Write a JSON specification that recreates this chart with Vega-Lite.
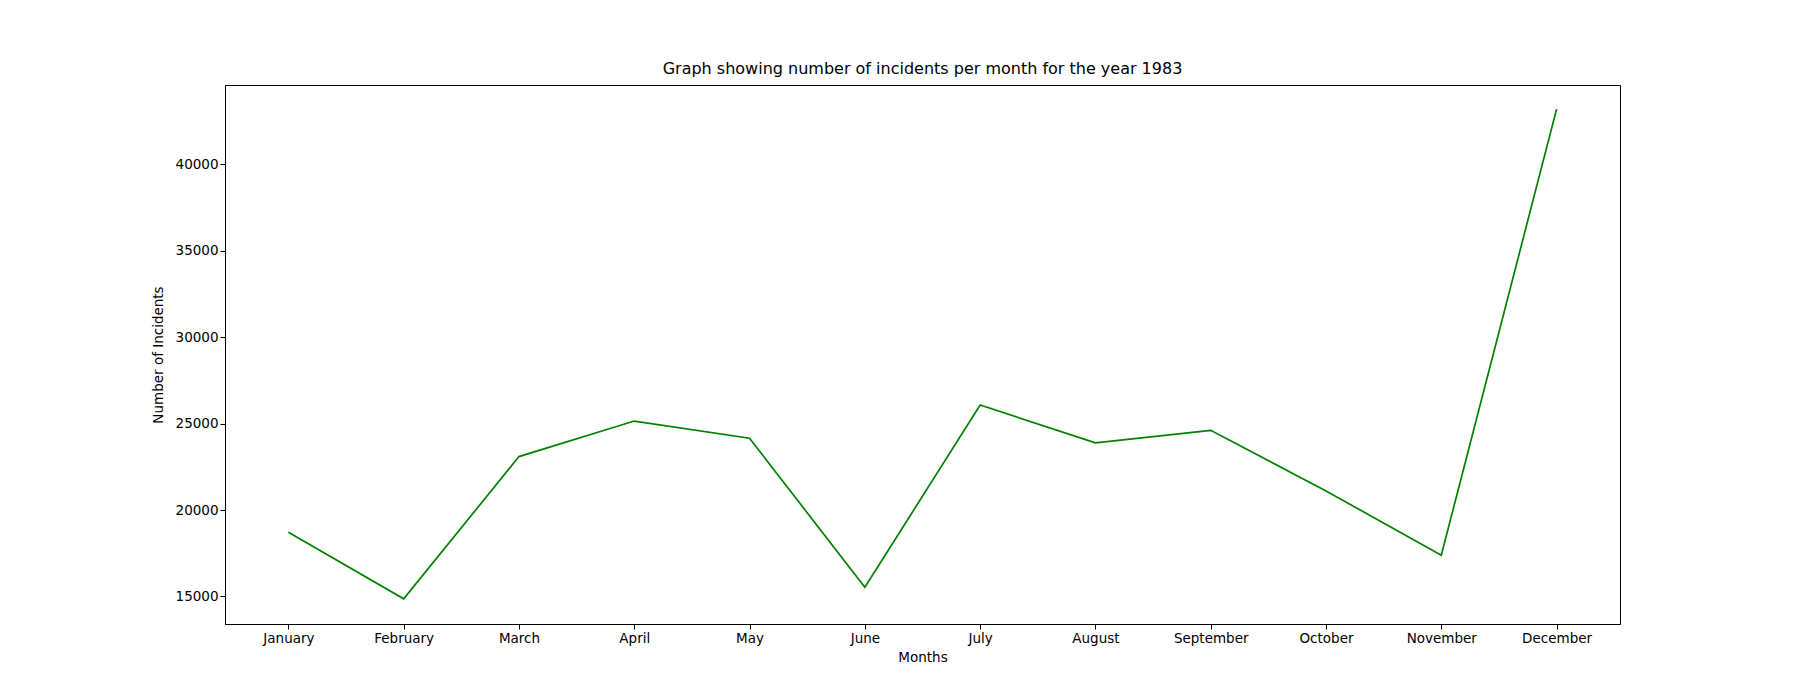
{
  "$schema": "https://vega.github.io/schema/vega-lite/v6.json",
  "autosize": "none",
  "width": 1395,
  "height": 539,
  "padding": {"left": 225, "top": 85, "right": 180, "bottom": 76},
  "background": "white",
  "title": {"text": "Graph showing number of incidents per month for the year 1983", "font": "DejaVu Sans", "fontSize": 16, "fontWeight": "normal", "color": "black", "offset": 8},
  "config": {
    "view": {"stroke": "black", "strokeWidth": 1},
    "axis": {"labelFont": "DejaVu Sans", "titleFont": "DejaVu Sans", "labelFontSize": 13.5, "titleFontSize": 13.5, "titleFontWeight": "normal", "labelColor": "black", "titleColor": "black", "tickColor": "black", "domainColor": "black", "grid": false, "tickSize": 5}
  },
  "data": {"values": [
    {"month": "January", "incidents": 18713},
    {"month": "February", "incidents": 14867},
    {"month": "March", "incidents": 23090},
    {"month": "April", "incidents": 25144},
    {"month": "May", "incidents": 24150},
    {"month": "June", "incidents": 15530},
    {"month": "July", "incidents": 26070},
    {"month": "August", "incidents": 23880},
    {"month": "September", "incidents": 24610},
    {"month": "October", "incidents": 21100},
    {"month": "November", "incidents": 17390},
    {"month": "December", "incidents": 43180}
  ]},
  "mark": {"type": "line", "color": "green", "strokeWidth": 1.7},
  "encoding": {
    "x": {"field": "month", "type": "ordinal", "sort": null, "title": "Months", "scale": {"type": "point", "padding": 0.55}, "axis": {"labelAngle": 0, "titlePadding": 6}},
    "y": {"field": "incidents", "type": "quantitative", "title": "Number of Incidents", "scale": {"domain": [13409, 44575], "nice": false, "zero": false}, "axis": {"values": [15000, 20000, 25000, 30000, 35000, 40000], "format": "d", "titlePadding": 10}}
  }
}
